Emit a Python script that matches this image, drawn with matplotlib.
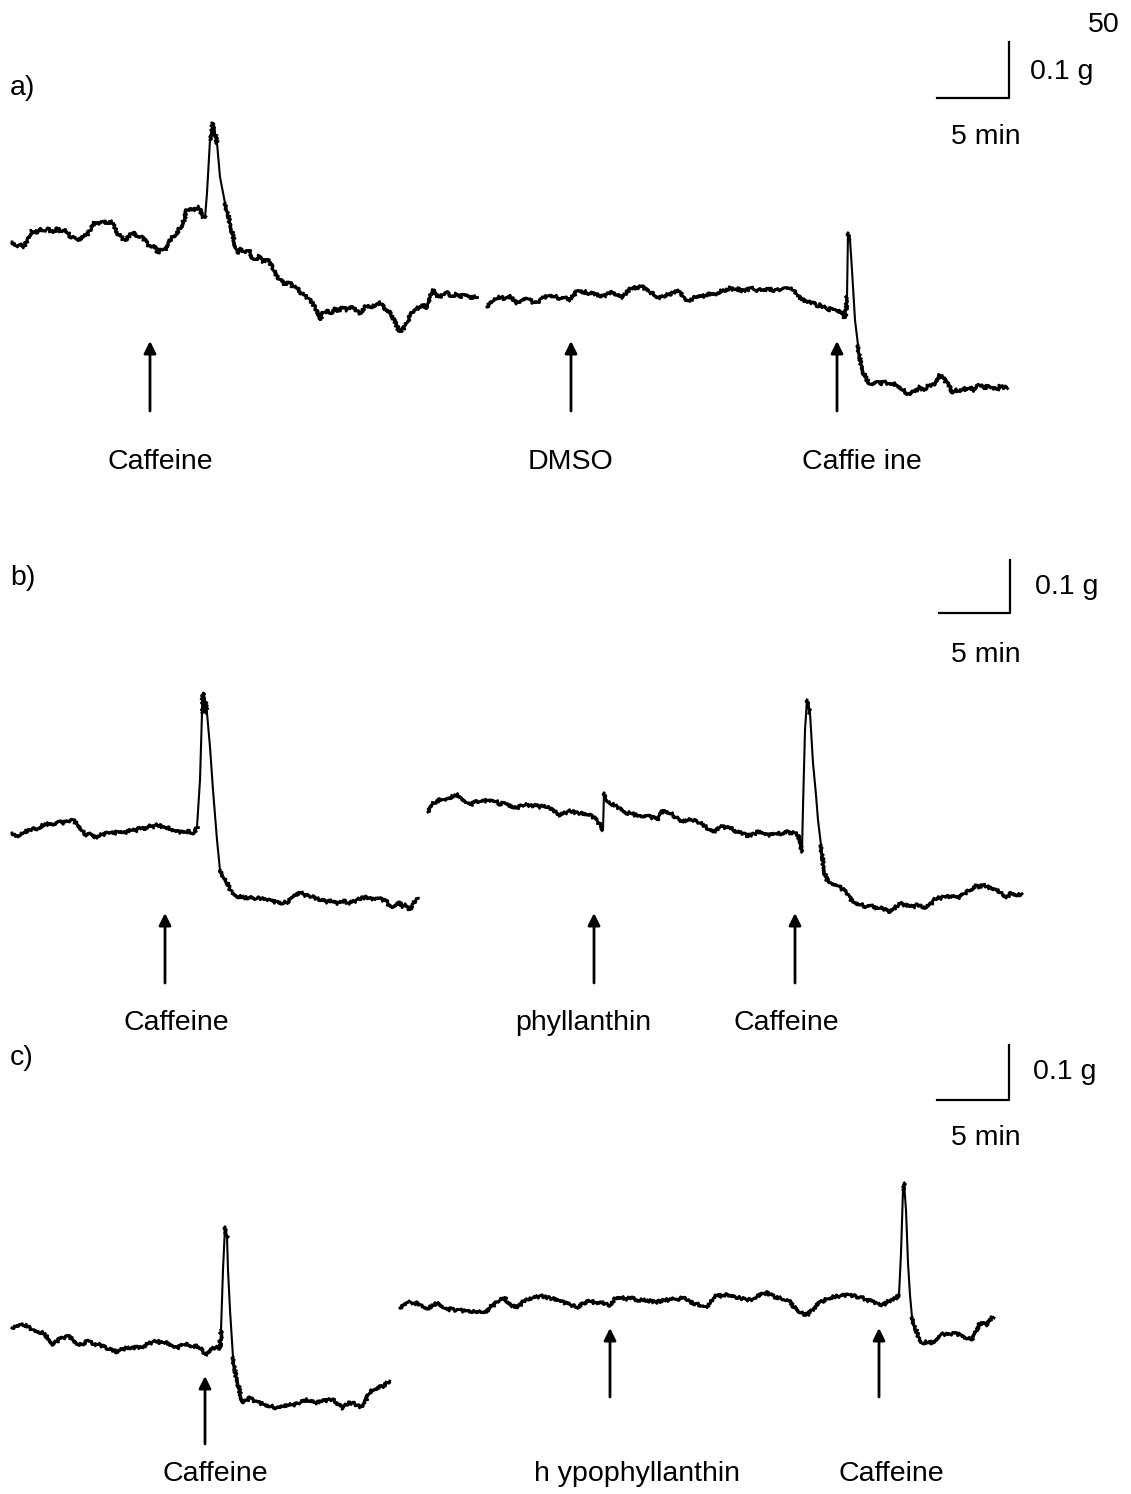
import matplotlib
matplotlib.use("Agg")
import matplotlib.pyplot as plt

# ---------------- data (trace samples, x = time px, y = tension px) -------------
A1 = [(12,242),(16,246),(20,244),(24,247),(28,238),(32,231),(36,233),(40,228),(44,231),(48,229),(53,233),(57,228),
      (61,232),(65,229),(70,236),(74,238),(78,241),(82,237),(87,235),(91,229),(95,222),(99,224),(103,221),(107,224),
      (112,222),(115,229),(118,234),(122,238),(125,241),(129,236),(133,232),(137,237),(142,237),(146,242),(150,247),
      (154,245),(158,253),(162,249),(165,250),(168,243),(172,237),(176,234),(180,228),(184,220),(187,210),(191,208),
      (195,210),(199,207),(202,216),(205,218),(207,193),(210,140),(213,123),(217,143),(220,177),(225,203),(230,223),
      (234,240),(237,253),(241,249),(245,253),(249,250),(252,257),(255,260),(259,256),(263,262),(267,259),(270,263),
      (274,271),(277,277),(281,280),(285,285),(289,282),(293,287),(297,288),(301,293),(305,296),(309,299),(313,304),
      (316,309),(320,320),(323,313),(327,311),(331,313),(335,309),(339,311),(343,307),(347,310),(351,306),(355,309),
      (360,313),(364,308),(368,305),(372,307),(376,304),(380,303),(384,308),(388,310),(391,315),(395,322),(398,329),
      (400,332),(403,329),(406,325),(409,318),(412,313),(416,310),(420,306),(423,305),(427,308),(430,297),(433,290),
      (436,295),(440,297),(444,294),(448,293),(452,297),(456,294),(460,297),(464,294),(468,295),(472,299),(475,296),
      (477,298)]
A2 = [(487,307),(490,302),(494,300),(497,298),(501,297),(505,299),(510,295),(513,300),(517,303),(521,300),(524,298),
      (527,298),(531,301),(534,303),(537,303),(541,299),(545,297),(550,295),(554,296),(557,297),(561,299),(565,298),
      (570,300),(574,295),(578,290),(582,293),(586,292),(589,294),(593,293),(597,295),(600,297),(604,296),(608,294),
      (613,292),(617,295),(620,297),(623,297),(627,292),(630,289),(633,287),(637,289),(640,286),(643,287),(647,291),
      (652,293),(656,296),(660,298),(664,296),(667,295),(670,295),(674,292),(678,290),(681,293),(684,298),(688,300),
      (690,300),(694,298),(697,296),(700,295),(704,296),(708,294),(713,295),(717,293),(721,291),(725,291),(730,288),
      (734,290),(738,289),(742,291),(747,290),(751,288),(755,290),(760,290),(764,291),(768,289),(773,290),(777,290),
      (781,289),(786,288),(790,288),(794,291),(797,295),(800,298),(803,300),(807,301),(810,303),(813,303),(817,306),
      (820,305),(824,307),(828,310),(832,308),(837,310),(841,313),(845,318),(846,310),(847,297),(848,233),(850,240),
      (852,270),(855,320),(858,345),(860,360),(864,374),(867,380),(870,384),(873,383),(877,381),(880,384),(884,382),
      (887,383),(891,385),(895,384),(900,387),(903,390),(907,393),(910,395),(913,392),(917,390),(920,387),(924,391),
      (928,386),(933,385),(937,381),(940,375),(943,378),(947,383),(950,388),(953,393),(957,390),(960,392),(963,388),
      (967,390),(970,387),(974,391),(977,386),(980,385),(984,389),(988,385),(993,388),(997,390),(1000,386),(1004,388),
      (1007,387)]
B1 = [(12,833),(16,836),(20,835),(24,832),(28,831),(33,828),(37,829),(41,826),(45,825),(50,823),(54,824),(58,821),
      (62,823),(67,822),(70,820),(73,820),(76,823),(80,827),(83,832),(87,835),(90,834),(93,837),(97,837),(101,835),
      (105,834),(110,832),(114,834),(118,831),(123,833),(127,832),(131,830),(135,831),(140,828),(144,829),(148,826),
      (152,827),(157,825),(161,826),(164,828),(167,827),(171,830),(175,831),(180,832),(184,833),(188,831),(192,833),
      (195,832),(197,827),(200,780),(202,713),(203,693),(205,700),(207,713),(210,747),(213,790),(217,840),(220,870),
      (224,878),(227,883),(230,889),(233,893),(237,896),(241,897),(247,898),(251,896),(255,899),(260,898),(264,900),
      (268,899),(273,902),(277,901),(282,903),(287,902),(291,899),(295,896),(300,892),(304,895),(308,896),(313,897),
      (317,899),(322,900),(327,902),(331,901),(335,903),(340,903),(344,901),(348,903),(353,902),(357,900),(362,898),
      (367,897),(371,899),(375,899),(379,898),(383,900),(387,902),(390,907),(392,907),(396,904),(400,903),(403,907),
      (406,905),(410,910),(413,903),(416,900),(418,898)]
B2 = [(428,812),(430,806),(433,803),(437,802),(440,799),(444,800),(447,798),(451,797),(455,796),(458,795),(462,798),
      (466,802),(470,805),(474,803),(477,801),(480,802),(484,801),(488,800),(493,800),(497,802),(500,804),(503,803),
      (507,805),(511,806),(514,808),(517,808),(521,806),(524,805),(527,805),(531,806),(535,805),(540,807),(543,806),
      (547,808),(550,808),(553,811),(557,813),(560,815),(563,814),(567,812),(570,811),(574,812),(577,813),(580,813),
      (584,814),(587,815),(590,815),(593,817),(596,820),(598,822),(601,826),(603,830),(604,793),(606,799),(608,802),
      (611,804),(614,805),(617,807),(620,808),(624,811),(627,813),(631,813),(635,815),(640,815),(643,816),(647,815),
      (650,817),(654,818),(657,820),(660,815),(663,810),(666,811),(670,813),(673,815),(677,818),(680,822),(684,821),
      (688,820),(693,820),(697,822),(700,823),(703,825),(707,828),(710,830),(713,832),(717,830),(720,827),(724,827),
      (727,828),(730,828),(734,830),(737,832),(740,833),(744,833),(747,836),(750,835),(754,834),(757,832),(760,832),
      (764,834),(768,835),(773,835),(777,833),(781,834),(784,832),(787,832),(791,833),(795,833),(798,836),(800,840),
      (802,852),(803,807),(805,730),(807,700),(808,703),(810,713),(813,763),(816,795),(818,820),(821,845),(823,863),
      (825,874),(827,880),(832,883),(837,885),(842,889),(847,893),(850,898),(853,902),(857,903),(862,905),(867,907),
      (871,906),(876,908),(880,908),(884,909),(887,911),(890,912),(894,909),(897,906),(900,903),(904,905),(908,906),
      (913,907),(917,905),(922,907),(927,907),(931,904),(934,900),(937,898),(941,898),(945,896),(950,897),(954,896),
      (957,898),(960,897),(964,894),(968,891),(973,888),(976,886),(980,887),(983,885),(987,887),(992,888),(997,890),
      (1000,892),(1004,895),(1007,897),(1010,894),(1013,893),(1017,895),(1022,894)]
C1 = [(12,1328),(16,1326),(20,1324),(23,1325),(27,1326),(30,1328),(33,1330),(37,1331),(40,1332),(43,1333),(46,1336),
      (50,1340),(53,1345),(56,1342),(60,1339),(63,1338),(67,1336),(70,1337),(73,1340),(77,1343),(80,1345),(84,1343),
      (87,1341),(90,1342),(94,1345),(97,1344),(100,1345),(104,1347),(108,1349),(112,1350),(117,1352),(120,1350),
      (124,1349),(127,1348),(131,1349),(135,1347),(140,1348),(144,1346),(148,1344),(153,1342),(157,1341),(161,1343),
      (164,1342),(167,1343),(170,1345),(174,1347),(177,1348),(181,1346),(185,1344),(190,1345),(193,1347),(197,1346),
      (200,1348),(203,1352),(205,1355),(208,1352),(211,1349),(213,1348),(217,1347),(220,1348),(221,1330),(223,1270),
      (225,1227),(227,1237),(228,1270),(230,1310),(233,1357),(235,1372),(238,1383),(240,1393),(243,1403),(247,1400),
      (250,1398),(253,1400),(257,1402),(260,1403),(263,1404),(267,1405),(270,1406),(274,1407),(277,1408),(280,1408),
      (284,1406),(288,1405),(293,1405),(297,1404),(301,1402),(304,1401),(307,1400),(311,1401),(315,1403),(320,1402),
      (324,1401),(328,1400),(333,1400),(337,1403),(340,1406),(343,1408),(346,1405),(349,1403),(353,1403),(357,1405),
      (360,1407),(362,1407),(366,1400),(370,1392),(374,1389),(377,1388),(380,1387),(384,1386),(387,1383),(390,1382)]
C2 = [(400,1308),(404,1304),(407,1302),(411,1302),(414,1304),(417,1303),(421,1305),(424,1307),(427,1308),(431,1307),
      (434,1305),(438,1302),(441,1305),(444,1308),(447,1310),(451,1309),(455,1310),(460,1310),(464,1311),(468,1310),
      (473,1312),(477,1311),(481,1313),(485,1313),(488,1310),(490,1307),(494,1305),(497,1302),(500,1300),(503,1299),
      (505,1298),(507,1302),(510,1305),(513,1306),(517,1308),(520,1305),(523,1302),(527,1300),(530,1298),(534,1298),
      (537,1297),(541,1296),(545,1297),(550,1298),(554,1299),(557,1300),(560,1301),(563,1302),(567,1304),(571,1305),
      (574,1306),(578,1307),(581,1305),(584,1303),(587,1302),(591,1301),(595,1303),(600,1302),(604,1303),(607,1304),
      (610,1305),(613,1301),(617,1297),(620,1297),(624,1298),(627,1299),(630,1298),(634,1299),(638,1300),(643,1300),
      (647,1301),(650,1301),(654,1302),(657,1302),(661,1301),(665,1300),(670,1300),(674,1299),(678,1299),(683,1298),
      (687,1300),(690,1302),(693,1303),(697,1304),(700,1305),(704,1307),(707,1307),(711,1302),(714,1298),(717,1295),
      (721,1296),(724,1295),(728,1295),(731,1297),(735,1297),(740,1298),(745,1299),(750,1300),(754,1298),(758,1296),
      (763,1294),(767,1293),(771,1295),(775,1297),(780,1298),(784,1300),(788,1301),(790,1302),(793,1306),(796,1309),
      (800,1312),(803,1314),(807,1315),(810,1312),(814,1308),(817,1305),(821,1302),(825,1300),(829,1298),(833,1297),
      (838,1296),(842,1296),(846,1295),(850,1295),(854,1296),(858,1297),(863,1298),(866,1300),(870,1301),(873,1302),
      (877,1303),(880,1304),(883,1305),(886,1303),(889,1301),(892,1300),(896,1298),(899,1295),(901,1253),(903,1190),
      (904,1183),(906,1210),(908,1263),(910,1295),(912,1317),(915,1328),(917,1333),(920,1340),(922,1343),(926,1342),
      (930,1343),(933,1342),(937,1338),(940,1335),(944,1334),(948,1335),(953,1333),(957,1334),(962,1335),(965,1337),
      (967,1338),(970,1339),(973,1338),(977,1330),(980,1323),(984,1324),(987,1325),(990,1320),(993,1317)]

# drug additions: (time px, label)
A_EVENTS = [(150, "Caffeine"), (571, "DMSO"), (837, "Caffie ine")]
B_EVENTS = [(165, "Caffeine"), (594, "phyllanthin"), (795, "Caffeine")]
C_EVENTS = [(205, "Caffeine"), (610, "h ypophyllanthin"), (879, "Caffeine")]
A_LABEL_X = [160, 571, 862]
B_LABEL_X = [176, 583, 786]
C_LABEL_X = [215, 637, 891]
PANEL_NAMES = ["a)", "b)", "c)"]
SCALE_Y_LABEL = "0.1 g"
SCALE_X_LABEL = "5 min"
PAGE_NUMBER = "50"

# ---------------- drawing -------------
W, H = 1131, 1494
fig = plt.figure(figsize=(W / 100, H / 100), dpi=100)
ax = fig.add_axes([0, 0, 1, 1])
ax.set_xlim(0, W)
ax.set_ylim(H, 0)
ax.axis("off")

FONT = ["Liberation Sans", "DejaVu Sans"]
FS = 20.5

def trace(seg):
    xs = [p[0] for p in seg]
    ys = [p[1] for p in seg]
    # clean thin line for whole trace (fast transients look crisp)
    ax.plot(xs, ys, color="black", lw=1.5)
    # noisy-looking thick line for the slow (baseline) parts only
    run = [0]
    runs = []
    for i in range(1, len(seg)):
        if abs(ys[i] - ys[i - 1]) <= 20:
            run.append(i)
        else:
            runs.append(run)
            run = [i]
    runs.append(run)
    for r in runs:
        if len(r) < 2:
            continue
        ln, = ax.plot([xs[i] for i in r], [ys[i] for i in r], color="black", lw=2.0)
        ln.set_sketch_params(scale=1.6, length=1.6, randomness=4)

for seg in (A1, A2, B1, B2, C1, C2):
    trace(seg)

def arrow(x, y_top, y_bot):
    ax.annotate("", xy=(x, y_top), xytext=(x, y_bot),
                arrowprops=dict(arrowstyle="-|>", color="black", lw=2,
                                mutation_scale=18, shrinkA=0, shrinkB=0))

def labels(events, label_x, y_text):
    for (x, lab), lx in zip(events, label_x):
        ax.text(lx, y_text, lab, ha="center", va="center", fontsize=FS, family=FONT)

for x, _ in A_EVENTS:
    arrow(x, 341, 411)
for x, _ in B_EVENTS:
    arrow(x, 913, 983)
arrow(C_EVENTS[0][0], 1376, 1444)
for x, _ in C_EVENTS[1:]:
    arrow(x, 1328, 1397)

labels(A_EVENTS, A_LABEL_X, 462)
labels(B_EVENTS, B_LABEL_X, 1023)
labels(C_EVENTS, C_LABEL_X, 1474)

def scalebar(x0, x1, y_top, y_bot, ty, tx, mx, my):
    ax.plot([x0, x1, x1], [y_bot, y_bot, y_top], color="black", lw=1.6)
    ax.text(tx, ty, SCALE_Y_LABEL, ha="left", va="center", fontsize=FS, family=FONT)
    ax.text(mx, my, SCALE_X_LABEL, ha="center", va="center", fontsize=FS, family=FONT)

scalebar(937, 1009, 42, 98, 72, 1030, 986, 137)
scalebar(939, 1010, 560, 613, 587, 1035, 986, 655)
scalebar(937, 1009, 1045, 1100, 1072, 1033, 986, 1138)

for name, y in zip(PANEL_NAMES, [88, 578, 1058]):
    ax.text(10, y, name, ha="left", va="center", fontsize=FS, family=FONT)
ax.text(1120, 25, PAGE_NUMBER, ha="right", va="center", fontsize=FS, family=FONT)

fig.savefig("out.png", dpi=100, facecolor="white")
